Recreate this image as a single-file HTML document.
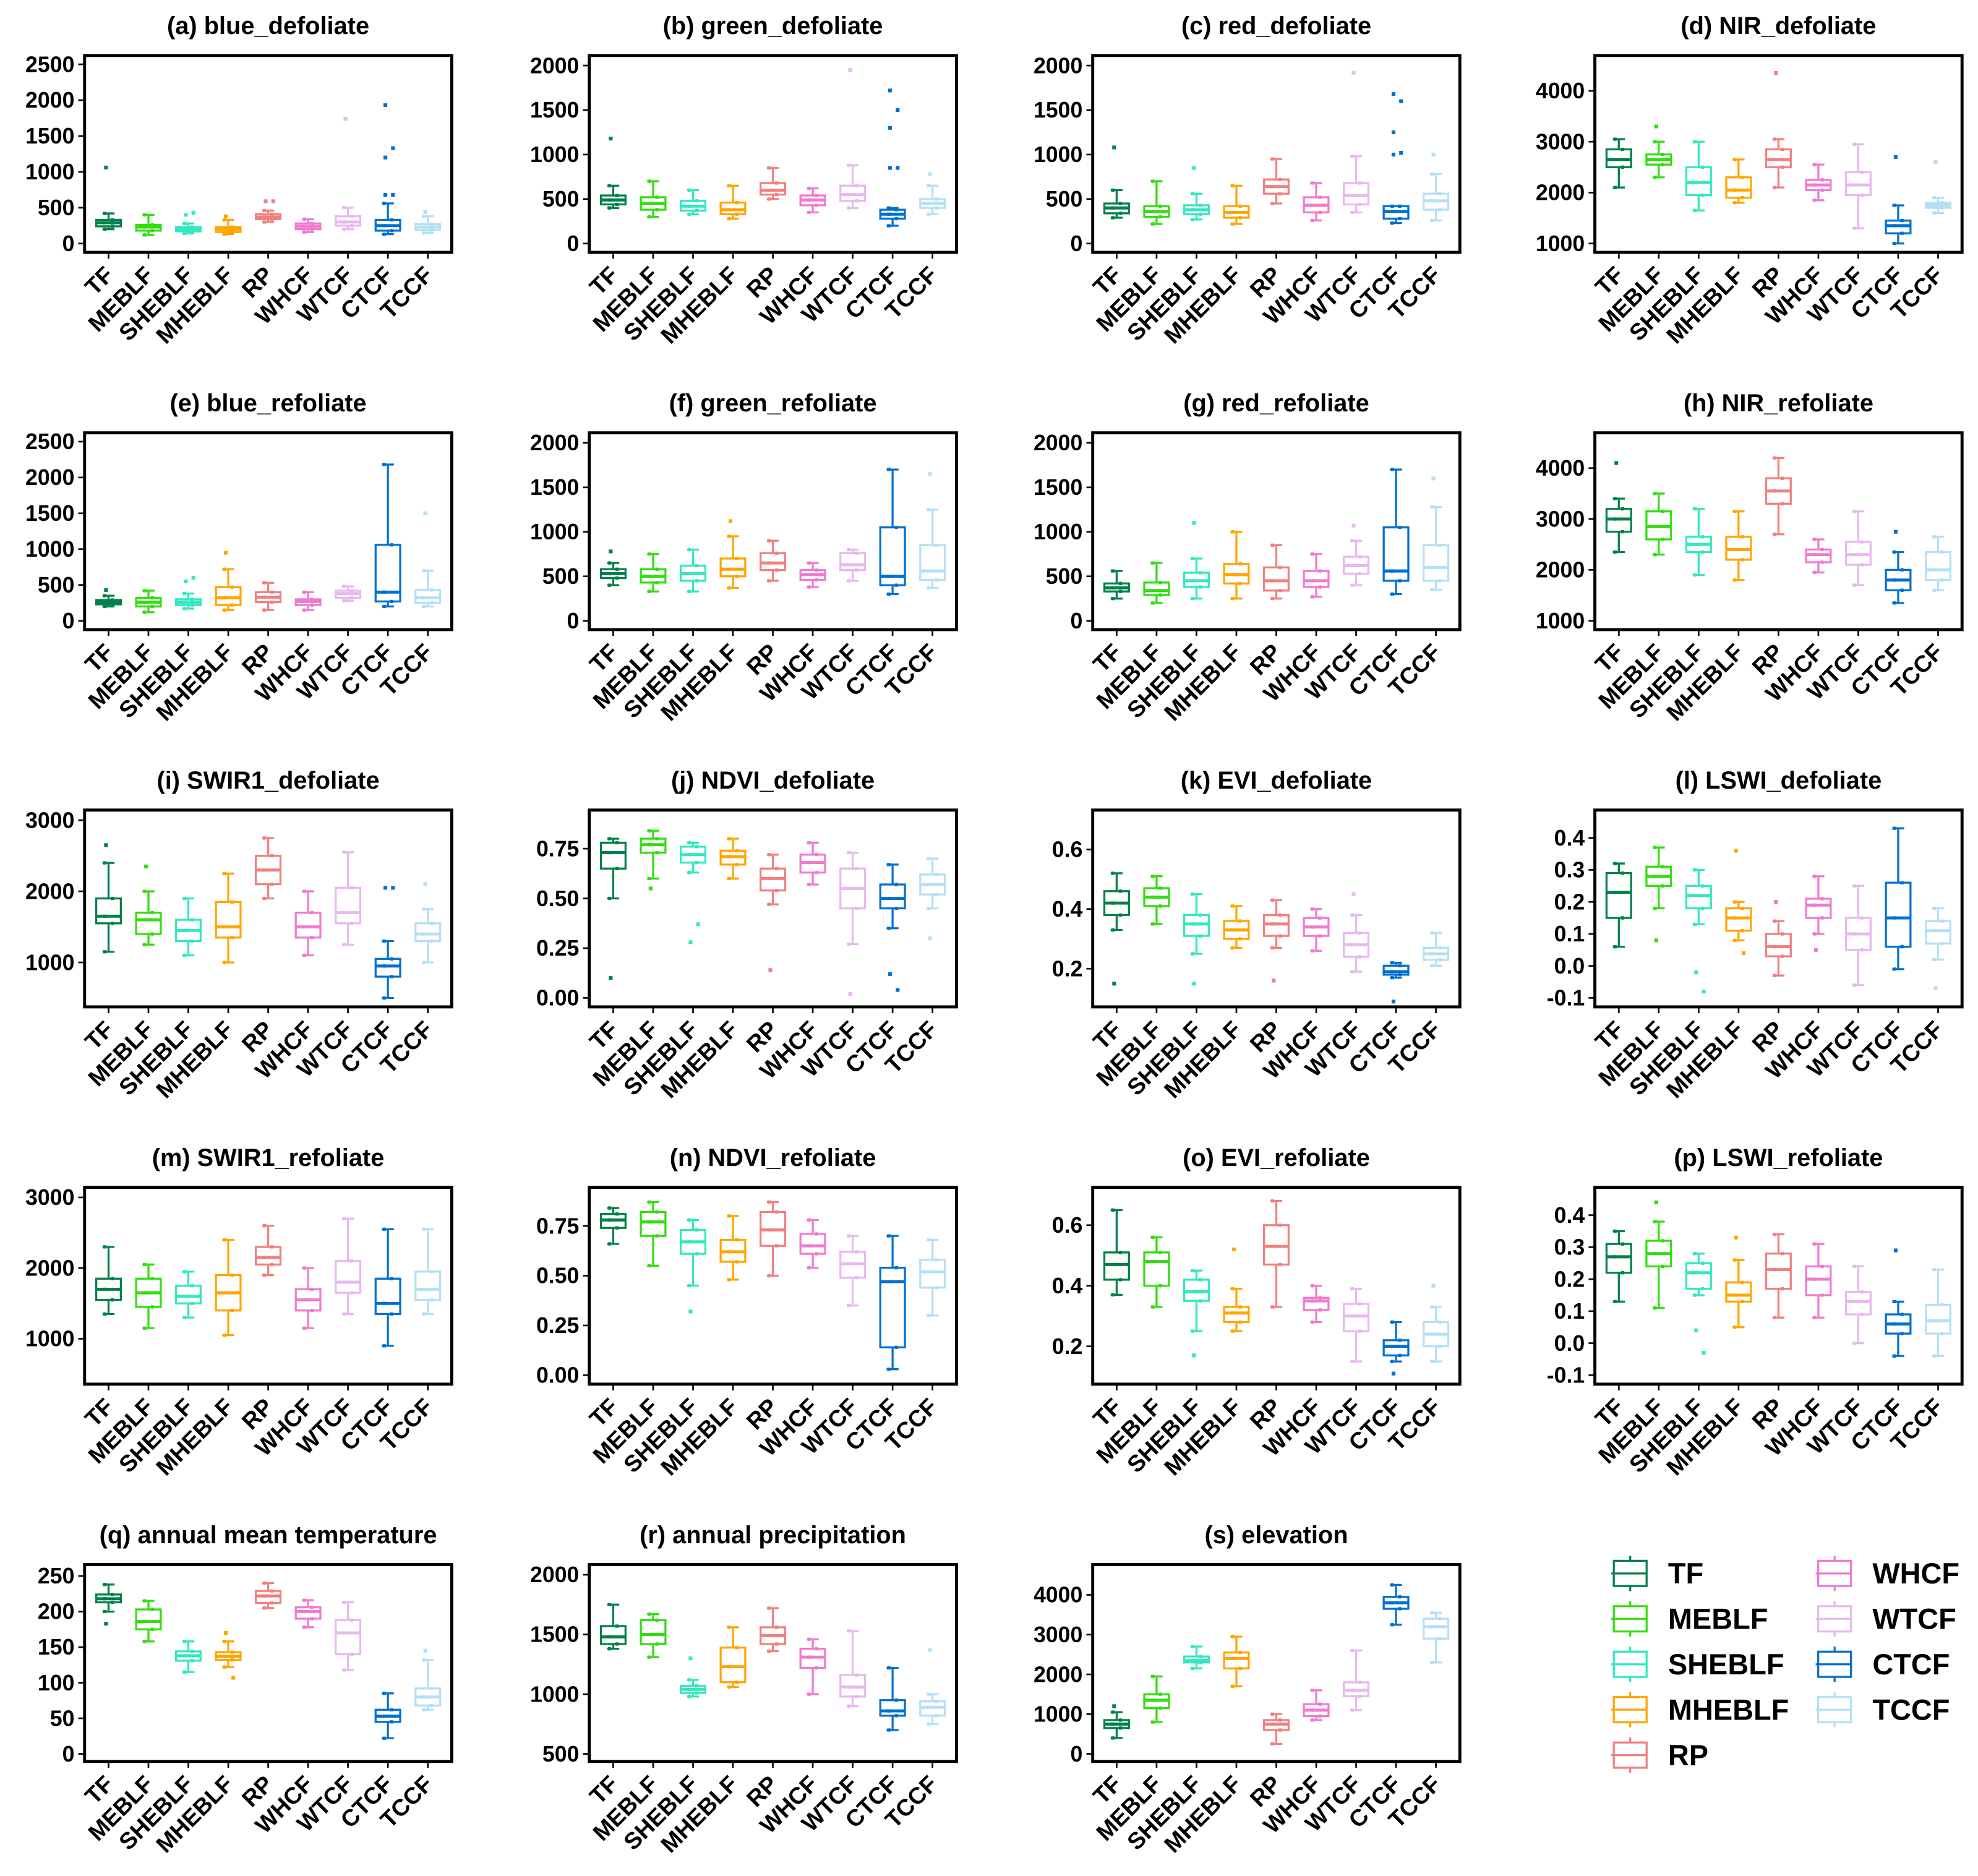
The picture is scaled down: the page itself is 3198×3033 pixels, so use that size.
<!DOCTYPE html>
<html><head><meta charset="utf-8">
<style>
html,body{margin:0;padding:0;background:#fff;}
svg{display:block;}
text{font-family:"Liberation Sans",Arial,sans-serif;}
</style></head>
<body>
<svg id="chart" width="3198" height="3033" viewBox="0 0 1567.6 1486.8" xmlns="http://www.w3.org/2000/svg"></svg>
<script>
const categories = ["TF","MEBLF","SHEBLF","MHEBLF","RP","WHCF","WTCF","CTCF","TCCF"];
const colors = ["#00804a","#33dd11","#33e8c0","#ffa500","#f08080","#f07ad0","#e8b8f0","#0070d0","#b4e0f6"];

// stats per category: [lower whisker, q1, median, q3, upper whisker]
const blueDef = [[200,240,290,330,420],[120,180,230,260,400],[140,170,200,230,280],[130,160,200,230,330],[300,340,370,410,460],[160,200,240,280,340],[200,250,300,380,500],[130,180,250,330,560],[150,190,230,270,380]];
const blueDefOut = [[1060],[],[400,430],[380],[590,590],[],[1740],[680,680,1200,1330,1930],[440]];
const greenDef = [[400,440,490,540,650],[300,380,450,520,700],[330,370,420,480,600],[280,330,380,460,650],[500,550,600,680,850],[350,430,490,540,620],[400,480,550,650,880],[200,280,330,380,400],[330,400,450,500,650]];
const greenDefOut = [[1180],[],[],[],[],[],[1950],[850,850,1300,1500,1720],[780]];
const redDef = [[290,340,400,450,600],[220,300,360,420,700],[270,330,380,430,560],[220,290,350,420,650],[450,560,640,720,950],[260,350,430,520,680],[350,440,540,680,980],[230,280,360,420,420],[260,380,480,560,780]];
const redDefOut = [[1080],[],[850],[],[],[],[1920],[1000,1020,1250,1600,1680],[1000]];
const nirDef = [[2100,2500,2650,2850,3050],[2300,2550,2650,2750,3000],[1650,1950,2200,2500,3000],[1800,1900,2050,2300,2650],[2100,2500,2650,2850,3050],[1850,2050,2150,2250,2550],[1300,1950,2150,2400,2950],[1000,1200,1350,1450,1750],[1600,1700,1750,1800,1900]];
const nirDefOut = [[],[3300],[],[],[4350],[],[],[2700],[2600]];
const blueRef = [[200,230,260,290,350],[120,200,260,320,420],[170,220,260,300,380],[150,220,320,470,720],[150,260,330,400,530],[150,220,270,300,400],[280,320,380,420,480],[200,270,400,1060,2180],[200,250,320,430,700]];
const blueRefOut = [[430],[],[550,600],[950],[],[],[],[],[1500]];
const greenRef = [[400,480,530,580,650],[330,430,500,580,750],[330,450,530,620,800],[370,500,580,700,950],[450,570,650,760,900],[380,460,520,570,650],[450,570,630,760,800],[300,400,500,1050,1700],[370,460,560,850,1250]];
const greenRefOut = [[780],[],[],[1120],[],[],[],[],[1650]];
const redRef = [[250,330,370,420,560],[200,290,340,430,650],[250,380,450,540,700],[250,420,520,640,1000],[250,340,450,600,850],[270,380,450,560,750],[400,530,620,720,900],[300,450,560,1050,1700],[350,450,600,850,1280]];
const redRefOut = [[],[],[1100],[],[],[],[1070],[],[1600]];
const nirRef = [[2350,2750,3000,3200,3400],[2300,2600,2850,3150,3500],[1900,2350,2500,2650,3200],[1800,2200,2400,2650,3150],[2700,3300,3550,3800,4200],[1950,2150,2300,2400,2600],[1700,2100,2300,2550,3150],[1350,1600,1800,2000,2350],[1600,1800,2000,2350,2650]];
const nirRefOut = [[4100],[],[],[],[],[],[],[2750],[]];
const swirDef = [[1150,1550,1650,1900,2400],[1250,1400,1600,1700,2000],[1100,1300,1450,1600,1900],[1000,1350,1500,1850,2250],[1900,2100,2300,2500,2750],[1100,1350,1500,1700,2000],[1250,1550,1700,2050,2550],[500,800,950,1050,1300],[1000,1300,1400,1550,1750]];
const swirDefOut = [[2650],[2350],[],[],[],[],[],[2050,2050],[2100]];
const ndviDef = [[0.50,0.65,0.73,0.78,0.80],[0.60,0.73,0.77,0.80,0.84],[0.63,0.68,0.72,0.76,0.78],[0.60,0.67,0.71,0.74,0.80],[0.47,0.54,0.60,0.65,0.72],[0.57,0.63,0.68,0.72,0.78],[0.27,0.45,0.55,0.65,0.73],[0.35,0.45,0.50,0.57,0.67],[0.45,0.52,0.57,0.62,0.70]];
const ndviDefOut = [[0.10],[0.55],[0.28,0.37],[],[0.14],[],[0.02],[0.12,0.04],[0.30]];
const eviDef = [[0.33,0.38,0.42,0.46,0.52],[0.35,0.41,0.44,0.47,0.51],[0.25,0.31,0.35,0.38,0.45],[0.27,0.30,0.33,0.36,0.41],[0.27,0.31,0.35,0.38,0.43],[0.26,0.31,0.34,0.37,0.40],[0.19,0.24,0.28,0.32,0.38],[0.17,0.18,0.19,0.21,0.22],[0.21,0.23,0.25,0.27,0.32]];
const eviDefOut = [[0.15],[],[0.15],[],[0.16],[],[0.45],[0.09],[]];
const lswiDef = [[0.06,0.15,0.23,0.29,0.32],[0.18,0.25,0.28,0.31,0.37],[0.13,0.18,0.22,0.25,0.30],[0.08,0.11,0.15,0.18,0.20],[-0.03,0.03,0.06,0.10,0.14],[0.10,0.15,0.19,0.21,0.28],[-0.06,0.05,0.10,0.15,0.25],[-0.01,0.06,0.15,0.26,0.43],[0.02,0.07,0.11,0.14,0.18]];
const lswiDefOut = [[],[0.08],[-0.02,-0.08],[0.36,0.04],[0.20],[0.05],[],[],[-0.07]];
const swirRef = [[1350,1550,1700,1850,2300],[1150,1450,1650,1850,2050],[1300,1500,1600,1750,1950],[1050,1400,1650,1900,2400],[1900,2050,2150,2300,2600],[1150,1400,1550,1700,2000],[1350,1650,1800,2100,2700],[900,1350,1500,1850,2550],[1350,1550,1700,1950,2550]];
const swirRefOut = [[],[],[],[],[],[],[],[],[]];
const ndviRef = [[0.66,0.74,0.78,0.81,0.84],[0.55,0.70,0.77,0.82,0.87],[0.45,0.61,0.67,0.73,0.78],[0.48,0.57,0.62,0.68,0.80],[0.50,0.65,0.73,0.82,0.87],[0.54,0.61,0.65,0.71,0.78],[0.35,0.49,0.56,0.62,0.70],[0.03,0.14,0.47,0.54,0.70],[0.30,0.44,0.52,0.58,0.68]];
const ndviRefOut = [[],[],[0.32],[],[],[],[],[],[]];
const eviRef = [[0.37,0.42,0.47,0.51,0.65],[0.33,0.40,0.48,0.51,0.56],[0.25,0.35,0.38,0.42,0.45],[0.25,0.28,0.31,0.33,0.39],[0.33,0.47,0.53,0.60,0.68],[0.28,0.32,0.35,0.36,0.40],[0.15,0.25,0.30,0.34,0.39],[0.15,0.17,0.20,0.22,0.28],[0.15,0.20,0.24,0.28,0.33]];
const eviRefOut = [[],[],[0.17],[0.52],[],[],[],[0.11],[0.40]];
const lswiRef = [[0.13,0.22,0.27,0.31,0.35],[0.11,0.24,0.28,0.32,0.38],[0.15,0.17,0.22,0.25,0.28],[0.05,0.13,0.15,0.19,0.26],[0.08,0.17,0.23,0.28,0.34],[0.08,0.15,0.20,0.24,0.31],[0.00,0.09,0.13,0.16,0.24],[-0.04,0.03,0.06,0.09,0.13],[-0.04,0.03,0.07,0.12,0.23]];
const lswiRefOut = [[],[0.44],[0.04,-0.03],[0.33],[],[],[],[0.29],[]];
const tempVals = [[200,213,218,224,238],[158,175,186,203,215],[115,131,138,144,158],[122,132,137,143,158],[205,212,222,229,240],[178,190,200,206,216],[118,140,170,188,213],[22,45,53,62,85],[62,68,80,92,132]];
const tempOut = [[183],[],[],[170,107],[],[],[],[],[145]];
const precVals = [[1380,1420,1480,1570,1750],[1310,1420,1500,1620,1670],[980,1010,1040,1070,1120],[1060,1100,1230,1390,1560],[1360,1420,1490,1560,1720],[1000,1220,1310,1380,1460],[900,980,1060,1160,1530],[700,820,860,950,1220],[750,820,890,940,1000]];
const precOut = [[],[],[1300],[],[],[],[],[],[1370]];
const elevVals = [[400,650,750,850,1050],[800,1150,1350,1500,1950],[2150,2300,2350,2450,2700],[1700,2150,2400,2550,2950],[250,600,750,850,1000],[850,950,1100,1250,1600],[1100,1450,1600,1800,2600],[3250,3650,3800,3950,4250],[2300,2900,3200,3400,3550]];
const elevOut = [[1200],[],[],[],[],[],[],[],[]];

const ticks2500 = [0,500,1000,1500,2000,2500];
const ticks2000 = [0,500,1000,1500,2000];
const ticksNir = [1000,2000,3000,4000];
const ticksSwir = [1000,2000,3000];
const ticksNdvi = [0,0.25,0.5,0.75];
const ticksEvi = [0.2,0.4,0.6];
const ticksLswi = [-0.1,0,0.1,0.2,0.3,0.4];
const ticksTemp = [0,50,100,150,200,250];
const ticksPrec = [500,1000,1500,2000];
const ticksElev = [0,1000,2000,3000,4000];

const colX = [67,467,866,1264], rowY = [44,343,642,941,1240], PW = 291, PH = 156;
const panels = [
 {t:"(a) blue_defoliate", s:blueDef, o:blueDefOut, d:[-123,2623], k:ticks2500, f:0},
 {t:"(b) green_defoliate", s:greenDef, o:greenDefOut, d:[-99,2113], k:ticks2000, f:0},
 {t:"(c) red_defoliate", s:redDef, o:redDefOut, d:[-99,2113], k:ticks2000, f:0},
 {t:"(d) NIR_defoliate", s:nirDef, o:nirDefOut, d:[826,4694], k:ticksNir, f:0},
 {t:"(e) blue_refoliate", s:blueRef, o:blueRefOut, d:[-123,2623], k:ticks2500, f:0},
 {t:"(f) green_refoliate", s:greenRef, o:greenRefOut, d:[-99,2113], k:ticks2000, f:0},
 {t:"(g) red_refoliate", s:redRef, o:redRefOut, d:[-99,2113], k:ticks2000, f:0},
 {t:"(h) NIR_refoliate", s:nirRef, o:nirRefOut, d:[826,4694], k:ticksNir, f:0},
 {t:"(i) SWIR1_defoliate", s:swirDef, o:swirDefOut, d:[375,3143], k:ticksSwir, f:0},
 {t:"(j) NDVI_defoliate", s:ndviDef, o:ndviDefOut, d:[-0.045,0.944], k:ticksNdvi, f:2},
 {t:"(k) EVI_defoliate", s:eviDef, o:eviDefOut, d:[0.072,0.732], k:ticksEvi, f:1},
 {t:"(l) LSWI_defoliate", s:lswiDef, o:lswiDefOut, d:[-0.128,0.487], k:ticksLswi, f:1},
 {t:"(m) SWIR1_refoliate", s:swirRef, o:swirRefOut, d:[357,3143], k:ticksSwir, f:0},
 {t:"(n) NDVI_refoliate", s:ndviRef, o:ndviRefOut, d:[-0.045,0.944], k:ticksNdvi, f:2},
 {t:"(o) EVI_refoliate", s:eviRef, o:eviRefOut, d:[0.075,0.725], k:ticksEvi, f:1},
 {t:"(p) LSWI_refoliate", s:lswiRef, o:lswiRefOut, d:[-0.128,0.487], k:ticksLswi, f:1},
 {t:"(q) annual mean temperature", s:tempVals, o:tempOut, d:[-10.6,266], k:ticksTemp, f:0},
 {t:"(r) annual precipitation", s:precVals, o:precOut, d:[437,2085], k:ticksPrec, f:0},
 {t:"(s) elevation", s:elevVals, o:elevOut, d:[-190,4762], k:ticksElev, f:0}
];

const NS = "http://www.w3.org/2000/svg";
const svg = document.getElementById("chart");
function mk(tag, attrs, parent){
  const e = document.createElementNS(NS, tag);
  for (const k in attrs) e.setAttribute(k, attrs[k]);
  (parent||svg).appendChild(e);
  return e;
}

panels.forEach((p, i) => {
  const x0 = colX[i % 4], y0 = rowY[Math.floor(i / 4)];
  const g = mk("g", {});
  
  
  const yS = v => y0 + PH - (v - p.d[0]) / (p.d[1] - p.d[0]) * PH;
  const step = PW / (categories.length + 0.2);
  const xS = j => x0 + step * (0.6 + j);
  const title = mk("text", {x: x0 + PW/2, y: y0 - 17, "text-anchor": "middle", "font-size": 19.5, "font-weight": "bold"}, g);
  title.textContent = p.t;
  
  
  p.k.forEach(v => {
    const y = yS(v);
    const tl = mk("line", {x1: x0 - 5, x2: x0, y1: y, y2: y, stroke: "#000", "stroke-width": 1.3}, g);
    
    
    const tx = mk("text", {x: x0 - 8, y: y + 6, "text-anchor": "end", "font-size": 17.5, "font-weight": "bold"}, g);
    tx.textContent = v.toFixed(p.f);
    
    
  });
  categories.forEach((c, j) => {
    const x = xS(j), s = p.s[j], col = colors[j];
    const bw = 19.5, cw = 9.5;
    const bg = mk("g", {stroke: col, "stroke-width": 1.6, fill: "none"}, g);
    
    
    mk("line", {x1: x, x2: x, y1: yS(s[0]), y2: yS(s[1])}, bg);
    mk("line", {x1: x, x2: x, y1: yS(s[3]), y2: yS(s[4])}, bg);
    mk("line", {x1: x - cw/2, x2: x + cw/2, y1: yS(s[0]), y2: yS(s[0])}, bg);
    mk("line", {x1: x - cw/2, x2: x + cw/2, y1: yS(s[4]), y2: yS(s[4])}, bg);
    mk("rect", {x: x - bw/2, y: yS(s[3]), width: bw, height: Math.max(0.5, yS(s[1]) - yS(s[3])), fill: "#fff"}, bg);
    mk("line", {x1: x - bw/2, x2: x + bw/2, y1: yS(s[2]), y2: yS(s[2]), "stroke-width": 2.4}, bg);
    s.forEach((v, q) => {
      const dt = mk("rect", {x: x - 1.3 + (q % 2 ? 3 : -3), y: yS(v) - 1.3, width: 2.6, height: 2.6, fill: col, stroke: "none"}, bg);
      
      
    });
    p.o[j].forEach((v, q) => {
      const dt = mk("rect", {x: x - 1.5 + (q % 2 ? 4 : -2), y: yS(v) - 1.5, width: 3, height: 3, fill: col, stroke: "none"}, g);
      
      
    });
    const tk = mk("line", {x1: x, x2: x, y1: y0 + PH, y2: y0 + PH + 5, stroke: "#000", "stroke-width": 1.3}, g);
    
    
    const lx = x + 5, ly = y0 + PH + 19;
    const lb = mk("text", {x: lx, y: ly, "text-anchor": "end", "font-size": 18.5, "font-weight": "bold", transform: `rotate(-45 ${lx} ${ly})`}, g);
    lb.textContent = c;
    
    
  });
  const fr = mk("rect", {x: x0, y: y0, width: PW, height: PH, fill: "none", stroke: "#000", "stroke-width": 2.4}, g);
  
  
});

// legend
const lg = mk("g", {});


const legX = [1278, 1440], legY = [1247, 1283, 1319, 1355, 1391];
categories.forEach((c, j) => {
  const col = j < 5 ? 0 : 1, row = j < 5 ? j : j - 5;
  const x = legX[col], y = legY[row], clr = colors[j];
  const e = mk("g", {stroke: clr, "stroke-width": 1.6, fill: "none"}, lg);
  
  
  mk("line", {x1: x + 14, x2: x + 14, y1: y - 14, y2: y + 14}, e);
  mk("rect", {x: x + 1, y: y - 10, width: 26, height: 20, fill: "#fff"}, e);
  mk("line", {x1: x - 1, x2: x + 27, y1: y, y2: y}, e);
  const t = mk("text", {x: x + 44, y: y + 8, "font-size": 23, "font-weight": "bold", fill: "#000", stroke: "none"}, e);
  t.textContent = c;
});
</script>
</body></html>
